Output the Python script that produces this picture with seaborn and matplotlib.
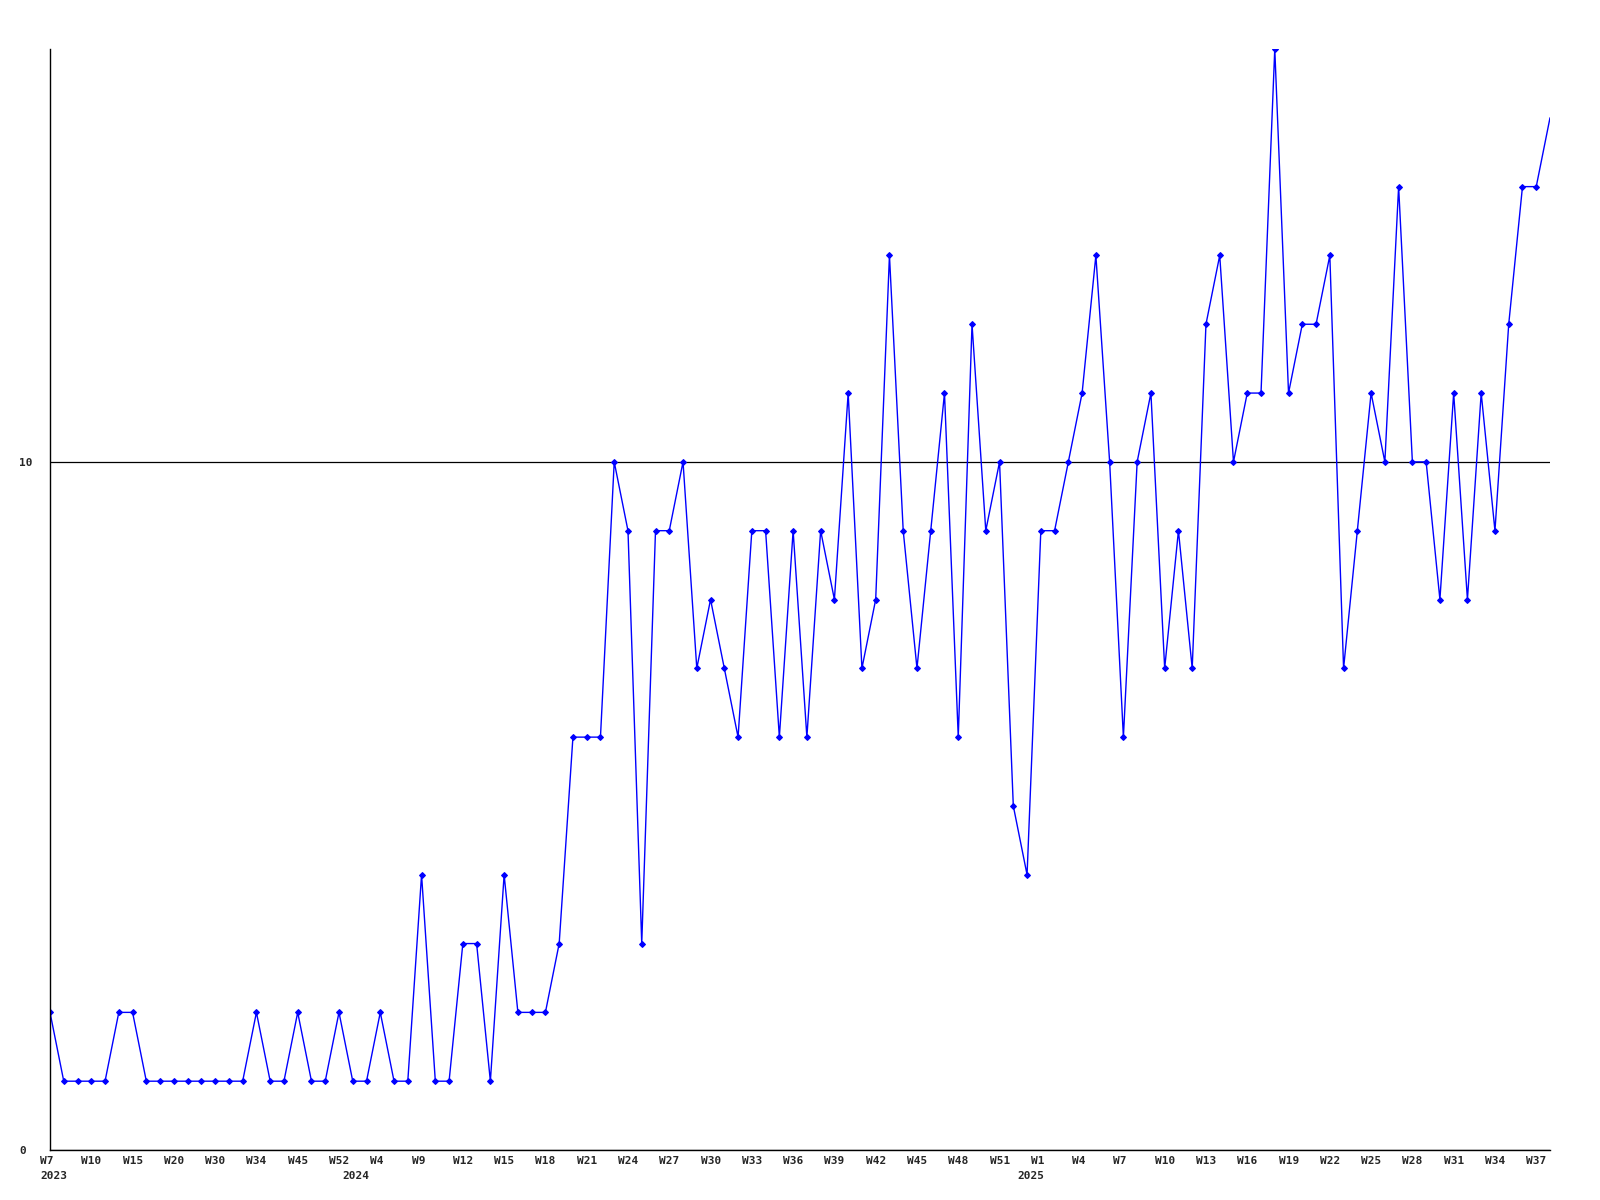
import pandas as pd
import matplotlib.pyplot as plt
import matplotlib.transforms as mtransforms
import seaborn as sns

# weekly counts, one point per week that has data
valores = [
    2, 1, 1, 1, 1, 2, 2, 1, 1, 1, 1, 1, 1, 1, 1, 2, 1, 1, 2, 1, 1, 2,   # 2023
    1, 1, 2, 1, 1, 4, 1, 1, 3, 3, 1, 4, 2, 2, 2, 3, 6, 6, 6, 10, 9, 3,
    9, 9, 10, 7, 8, 7, 6, 9, 9, 6, 9, 6, 9, 8, 11, 7, 8, 13, 9, 7, 9,
    11, 6, 12, 9, 10, 5,                                              # 2024
    4, 9, 9, 10, 11, 13, 10, 6, 10, 11, 7, 9, 7, 12, 13, 10, 11, 11,
    16, 11, 12, 12, 13, 7, 9, 11, 10, 14, 10, 10, 8, 11, 8, 11, 9, 12,
    14, 14, 15,                                                       # 2025
]

rotulos_semana = ['W7', 'W10', 'W15', 'W20', 'W30', 'W34', 'W45', 'W52',
                  'W4', 'W9', 'W12', 'W15', 'W18', 'W21', 'W24', 'W27', 'W30',
                  'W33', 'W36', 'W39', 'W42', 'W45', 'W48', 'W51',
                  'W1', 'W4', 'W7', 'W10', 'W13', 'W16', 'W19', 'W22', 'W25',
                  'W28', 'W31', 'W34', 'W37']
posicoes_semana = list(range(0, 3 * len(rotulos_semana), 3))

anos = ['2023', '2024', '2025']
inicio_ano = [0, 22, 71]

df = pd.DataFrame({'idx': range(len(valores)), 'valor': valores})

sns.set_style('white')
plt.rcParams['font.family'] = ['DejaVu Sans Mono']
plt.rcParams['font.weight'] = 'bold'

fig, ax = plt.subplots(figsize=(16, 12), dpi=100)
fig.subplots_adjust(left=50 / 1600, right=1550 / 1600, top=1 - 49 / 1200, bottom=1 - 1150 / 1200)

sns.lineplot(data=df, x='idx', y='valor', ax=ax, color='#0000ff', linewidth=1,
             marker='D', markersize=3, markeredgewidth=0.8,
             markeredgecolor='#0000ff', markerfacecolor='#0000ff',
             markevery=list(range(len(valores) - 1)))

ax.set_xlim(0, len(valores) - 1)
ax.set_ylim(0, 16)
ax.set_xlabel('')
ax.set_ylabel('')

ax.set_yticks([0, 10])
ax.set_yticklabels(['0', '10'], fontsize=8, fontweight='bold')
ax.tick_params(axis='y', length=0, pad=22)
for lab in ax.get_yticklabels():
    lab.set_horizontalalignment('left')
ax.yaxis.grid(True, color='black', linewidth=0.9)

ax.set_xticks(posicoes_semana)
ax.set_xticklabels(rotulos_semana, fontsize=8, fontweight='bold')
ax.tick_params(axis='x', length=0, pad=4)
desloc = mtransforms.ScaledTranslation(-10 / 100, 0, fig.dpi_scale_trans)
for lab in ax.get_xticklabels():
    lab.set_horizontalalignment('left')
    lab.set_transform(lab.get_transform() + desloc)

for ano, pos in zip(anos, inicio_ano):
    ax.annotate(ano, xy=(pos, 0), xycoords=('data', 'axes fraction'),
                xytext=(-10, -21), textcoords='offset pixels',
                ha='left', va='top', fontsize=8, fontweight='bold')

sns.despine(ax=ax)
for s in ['left', 'bottom']:
    ax.spines[s].set_color('black')
    ax.spines[s].set_linewidth(1)

plt.savefig('out.png', dpi=100)
